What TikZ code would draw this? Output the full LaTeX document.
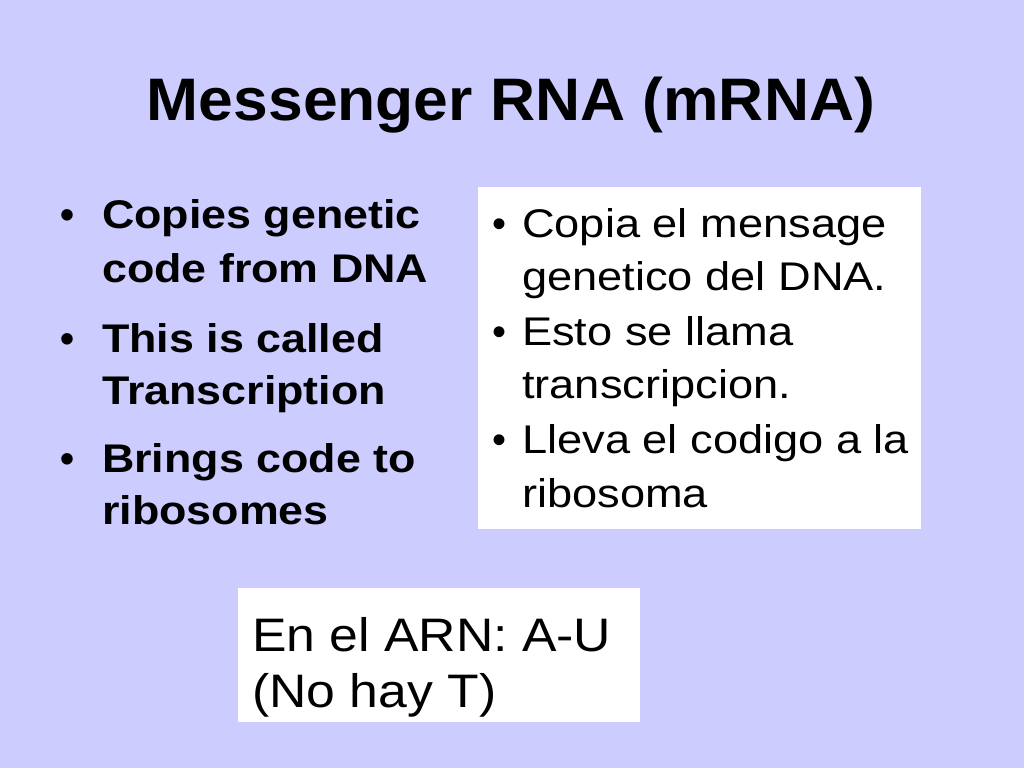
\documentclass[tikz,border=0pt]{standalone}
\usepackage{fontspec}
\setmainfont{Liberation Sans}
\definecolor{bg}{RGB}{204,204,255}
\newcommand{\wide}[2]{\scalebox{#1}[1]{#2}}
\begin{document}
\begin{tikzpicture}[x=1pt,y=-1pt,
  lb/.style={anchor=base west,inner sep=0pt,font=\fontsize{40}{48}\selectfont\bfseries},
  rb/.style={anchor=base west,inner sep=0pt,font=\fontsize{40}{48}\selectfont},
  bb/.style={anchor=base west,inner sep=0pt,font=\fontsize{47}{56}\selectfont}]
\fill[bg] (0,0) rectangle (1024,768);
\useasboundingbox (0,0) rectangle (1024,768);
\node[anchor=base,inner sep=0pt,font=\fontsize{60}{72}\selectfont\bfseries] (title) at (511,120) {\wide{1.04}{Messenger RNA (mRNA)}};
% left bullets
\node[lb] (lb1) at (60,228) {•};
\node[lb] (l1) at (102,228) {\wide{1.12}{Copies genetic}};
\node[lb] (l2) at (102,282) {\wide{1.12}{code from DNA}};
\node[lb] (lb2) at (60,352) {•};
\node[lb] (l3) at (102,352) {\wide{1.12}{This is called}};
\node[lb] (l4) at (102,404) {\wide{1.12}{Transcription}};
\node[lb] (lb3) at (60,472) {•};
\node[lb] (l5) at (102,472) {\wide{1.12}{Brings code to}};
\node[lb] (l6) at (102,524) {\wide{1.12}{ribosomes}};
% right box
\fill[white] (478,187) rectangle (921,529);
\node[rb] (rb1) at (492,237) {•};
\node[rb] (r1) at (522,237) {\wide{1.13}{Copia el mensage}};
\node[rb] (r2) at (522,290) {\wide{1.13}{genetico del DNA.}};
\node[rb] (rb2) at (492,345) {•};
\node[rb] (r3) at (522,345) {\wide{1.13}{Esto se llama}};
\node[rb] (r4) at (522,398) {\wide{1.13}{transcripcion.}};
\node[rb] (rb3) at (492,453) {•};
\node[rb] (r5) at (522,453) {\wide{1.13}{Lleva el codigo a la}};
\node[rb] (r6) at (522,507) {\wide{1.13}{ribosoma}};
% bottom box
\fill[white] (238,588) rectangle (640,722);
\node[bb] (b1) at (252,651) {\wide{1.1}{En el ARN: A-U}};
\node[bb] (b2) at (252,707) {\wide{1.1}{(No hay T)}};
\end{tikzpicture}
\end{document}
